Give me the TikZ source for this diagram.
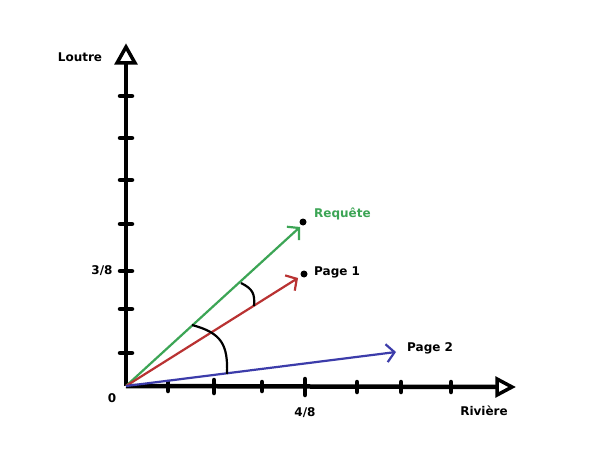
\documentclass[tikz,border=0pt]{standalone}
\usepackage{fontspec}
\setmainfont{DejaVu Sans}
\usetikzlibrary{arrows.meta}
\definecolor{vgreen}{RGB}{60,165,85}
\definecolor{vred}{RGB}{185,50,50}
\definecolor{vblue}{RGB}{60,60,170}
\tikzset{
  axis/.style={line width=4.5pt},
  axhead/.style={line width=3.5pt, fill=white, line join=miter},
  tick/.style={line width=4.5pt, line cap=round},
  vec/.style={line width=2.2pt, -{Straight Barb[length=8pt,width=18pt,line width=2.2pt]}},
  anglearc/.style={line width=2.2pt},
  lbl/.style={font=\bfseries\fontsize{12}{14}\selectfont, inner sep=0pt},
  pt/.style={circle, fill=black, inner sep=0pt, minimum size=7pt}
}
\begin{document}
\begin{tikzpicture}[x=1pt,y=-1pt]
\useasboundingbox (0,0) rectangle (601,454);
\fill[white] (0,0) rectangle (601,454);
% origin and axis ends
\coordinate (O) at (126,386);
\coordinate (Ytop) at (126,63);
\coordinate (Xend) at (497,387);
% axes
\draw[axis] (O) -- (Ytop);
\draw[axis] (O) -- (Xend);
% arrow heads
\draw[axhead] (126,47) -- (117,63) -- (135,63) -- cycle;
\draw[axhead] (512,387) -- (497,379) -- (497,395) -- cycle;
% y ticks
\foreach \y in {96,138,180,224,271,309,353}
  \draw[tick] (120,\y) -- (132,\y);
% x ticks
\draw[tick] (168,382) -- (168,391);
\draw[tick] (214,380) -- (214,393);
\draw[tick] (262,382) -- (262,391);
\draw[tick] (305,379) -- (305,395);
\draw[tick] (357,382) -- (357,392);
\draw[tick] (401,382) -- (401,392);
\draw[tick] (451,382) -- (451,392);
% points
\node[pt] (q) at (303,222) {};
\node[pt] (p1) at (304,274) {};
\coordinate (qtip) at (300,227);
\coordinate (p1tip) at (298,278);
\coordinate (p2tip) at (396,352);
% vectors
\draw[vec, vgreen] (O) -- (qtip);
\draw[vec, vred] (O) -- (p1tip);
\draw[vec, vblue] (O) -- (p2tip);
% angle arcs
\draw[anglearc] (192,325) .. controls (222,333) and (228,345) .. (227,374);
\draw[anglearc] (241,283) .. controls (253,289) and (255,294) .. (254,306);
% labels
\node[lbl, anchor=west, text=vgreen] (lq) at (314,214) {Requête};
\node[lbl, anchor=west] (lp1) at (314,272) {Page 1};
\node[lbl, anchor=west] (lp2) at (407,348) {Page 2};
\node[lbl] (ly) at (80,57) {Loutre};
\node[lbl] (lx) at (484,411) {Rivière};
\node[lbl] (l0) at (112,398) {0};
\node[lbl] (l38) at (102,271) {3/8};
\node[lbl] (l48) at (305,413) {4/8};
\end{tikzpicture}
\end{document}
